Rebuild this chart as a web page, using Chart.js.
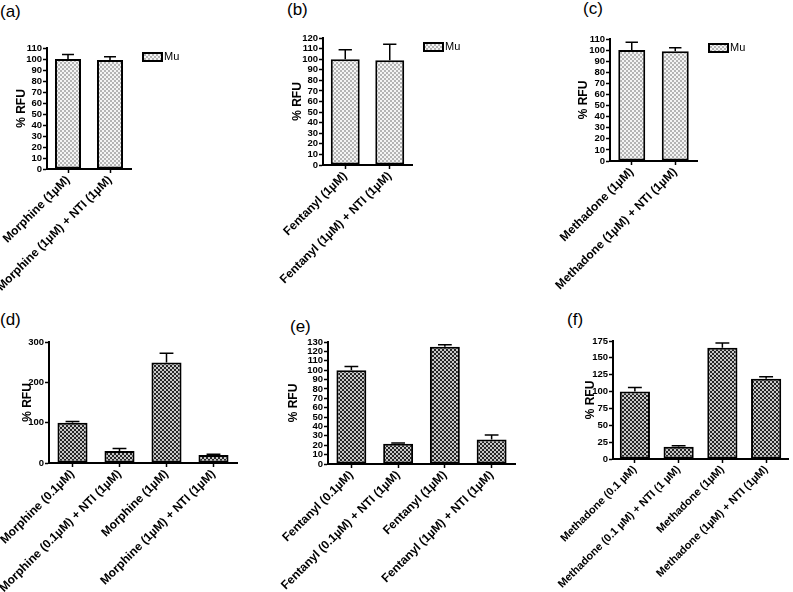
<!DOCTYPE html>
<html>
<head>
<meta charset="utf-8">
<script src="https://cdn.jsdelivr.net/npm/chart.js@4.4.0/dist/chart.umd.min.js"></script>
<style>
body{margin:0;background:#fff;width:793px;height:592px;position:relative;overflow:hidden;font-family:"Liberation Sans",Arial,sans-serif;}
canvas{position:absolute;}
.tag{position:absolute;font-size:17px;line-height:1;color:#000;}
</style>
</head>
<body>
<div class="tag" style="left:0px;top:3px">(a)</div>
<div class="tag" style="left:287px;top:1px">(b)</div>
<div class="tag" style="left:583px;top:0px">(c)</div>
<div class="tag" style="left:0px;top:311px">(d)</div>
<div class="tag" style="left:290px;top:318px">(e)</div>
<div class="tag" style="left:567px;top:311px">(f)</div>

<canvas id="pa" width="260" height="295" style="left:0;top:0"></canvas>
<canvas id="pb" width="270" height="295" style="left:260px;top:0"></canvas>
<canvas id="pc" width="263" height="295" style="left:530px;top:0"></canvas>
<canvas id="pd" width="260" height="297" style="left:0;top:295px"></canvas>
<canvas id="pe" width="270" height="297" style="left:260px;top:295px"></canvas>
<canvas id="pf" width="263" height="297" style="left:530px;top:295px"></canvas>

<script>
// 데이터
const labelsA = ['Morphine (1µM)', 'Morphine (1µM) + NTI (1µM)'];
const valuesA = [100, 99];
const errorsA = [4, 3];

const labelsB = ['Fentanyl (1µM)', 'Fentanyl (1µM) + NTI (1µM)'];
const valuesB = [100, 99];
const errorsB = [9, 15];

const labelsC = ['Methadone (1µM)', 'Methadone (1µM) + NTI (1µM)'];
const valuesC = [100, 99];
const errorsC = [7, 3];

const labelsD = ['Morphine (0.1µM)', 'Morphine (0.1µM) + NTI (1µM)', 'Morphine (1µM)', 'Morphine (1µM) + NTI (1µM)'];
const valuesD = [100, 30, 249, 20];
const errorsD = [3, 6, 23, 2];

const labelsE = ['Fentanyl (0.1µM)', 'Fentanyl (0.1µM) + NTI (1µM)', 'Fentanyl (1µM)', 'Fentanyl (1µM) + NTI (1µM)'];
const valuesE = [100, 21.5, 125, 26];
const errorsE = [4, 1, 2, 5];

const labelsF = ['Methadone (0.1 µM)', 'Methadone (0.1 µM) + NTI (1 µM)', 'Methadone (1µM)', 'Methadone (1µM) + NTI (1µM)'];
const valuesF = [100, 18, 165, 119];
const errorsF = [6, 1.5, 7, 3];

// y축 눈금 (최대값, 간격)
const yMaxTop = [110, 120, 110];
const yStepTop = [10, 10, 10];
const yMaxBottom = [300, 130, 175];
const yStepBottom = [100, 10, 25];

const seriesName = 'Mu';
const FONT = '"Liberation Sans", Arial, sans-serif';

// 무늬 채우기 (2px 체크)
function makePattern(c1, c2){
	const p = document.createElement('canvas');
	p.width = 4; p.height = 4;
	const g = p.getContext('2d');
	g.fillStyle = c1; g.fillRect(0,0,4,4);
	g.fillStyle = c2; g.fillRect(2,0,2,2); g.fillRect(0,2,2,2);
	return g.createPattern(p, 'repeat');
}
const lightFill = makePattern('#f4f4f4', '#b4b4b4');
const darkFill = makePattern('#262626', '#c8c8c8');

// 에러바 (위쪽만)
const errorBars = {
	id: 'errorBars',
	afterDatasetsDraw(chart){
		const ctx = chart.ctx;
		const y = chart.scales.y;
		const ds = chart.data.datasets[0];
		chart.getDatasetMeta(0).data.forEach((bar, i)=>{
			const top = y.getPixelForValue(ds.data[i] + ds.errors[i]);
			const half = bar.width * 0.23;
			ctx.save();
			ctx.strokeStyle = '#000';
			ctx.lineWidth = 1.5;
			ctx.beginPath();
			ctx.moveTo(bar.x, bar.y);
			ctx.lineTo(bar.x, top);
			ctx.moveTo(bar.x - half, top);
			ctx.lineTo(bar.x + half, top);
			ctx.stroke();
			ctx.restore();
		});
	}
};

// 범례 (오른쪽 위)
const sideLegend = {
	id: 'sideLegend',
	afterDraw(chart, args, opts){
		if(!opts.show) return;
		const ctx = chart.ctx;
		const a = chart.chartArea;
		const ds = chart.data.datasets[0];
		const bx = a.right + 12, by = a.top + 5;
		ctx.save();
		ctx.fillStyle = ds.backgroundColor;
		ctx.fillRect(bx, by, 19, 8);
		ctx.strokeStyle = '#000';
		ctx.lineWidth = 2;
		ctx.strokeRect(bx, by, 19, 8);
		ctx.fillStyle = '#000';
		ctx.font = '11px ' + FONT;
		ctx.textBaseline = 'middle';
		ctx.fillText(ds.label, bx + 21, by + 4);
		ctx.restore();
	}
};

function makePanel(id, p){
	new Chart(document.getElementById(id), {
		type: 'bar',
		data: {
			labels: p.labels,
			datasets: [{
				label: seriesName,
				data: p.values,
				errors: p.errors,
				backgroundColor: p.fill,
				borderColor: '#000',
				borderWidth: 2,
				borderSkipped: false,
				categoryPercentage: 1,
				barPercentage: p.barPct
			}]
		},
		options: {
			responsive: false,
			animation: false,
			devicePixelRatio: 1,
			layout: { padding: { left: 0, right: p.padRight, top: p.padTop, bottom: 0 } },
			plugins: {
				legend: { display: false },
				tooltip: { enabled: false },
				sideLegend: { show: p.legend }
			},
			scales: {
				x: {
					offset: true,
					grid: { display: true, drawOnChartArea: false, offset: false, tickLength: 4, tickWidth: 1.5, tickColor: '#000' },
					border: { color: '#000', width: 2 },
					ticks: {
						color: '#000', autoSkip: false, minRotation: 45, maxRotation: 45, padding: 0,
						font: { family: FONT, size: p.xFont || 12, weight: 'bold' }
					},
					afterFit(s){ s.height = p.xHeight; s.paddingLeft = 0; s.paddingRight = 0; }
				},
				y: {
					min: 0, max: p.yMax,
					grid: { display: true, drawOnChartArea: false, tickLength: 4, tickWidth: 1.5, tickColor: '#000' },
					border: { color: '#000', width: 2 },
					ticks: {
						stepSize: p.yStep, color: '#000', padding: 1, autoSkip: false,
						font: { family: FONT, size: 9.5, weight: 'bold' }
					},
					title: {
						display: true, text: '% RFU', color: '#000',
						padding: { top: p.titlePad, bottom: 0 },
						font: { family: FONT, size: 12, weight: 'bold' }
					},
					afterFit(s){ s.width = p.yWidth; s.paddingTop = 0; s.paddingBottom = 0; }
				}
			}
		},
		plugins: [errorBars, sideLegend]
	});
}

makePanel('pa', { labels: labelsA, values: valuesA, errors: errorsA, fill: lightFill, barPct: 0.62, legend: true,
	yMax: yMaxTop[0], yStep: yStepTop[0], yWidth: 47, xHeight: 126, padRight: 129, padTop: 48, titlePad: 14 });
makePanel('pb', { labels: labelsB, values: valuesB, errors: errorsB, fill: lightFill, barPct: 0.65, legend: true,
	yMax: yMaxTop[1], yStep: yStepTop[1], yWidth: 63, xHeight: 130, padRight: 118, padTop: 38, titlePad: 30 });
makePanel('pc', { labels: labelsC, values: valuesC, errors: errorsC, fill: lightFill, barPct: 0.62, legend: true,
	yMax: yMaxTop[2], yStep: yStepTop[2], yWidth: 80, xHeight: 134, padRight: 96, padTop: 39, titlePad: 46 });
makePanel('pd', { labels: labelsD, values: valuesD, errors: errorsD, fill: darkFill, barPct: 0.64, legend: false,
	yMax: yMaxBottom[0], yStep: yStepBottom[0], yWidth: 49, xHeight: 129, padRight: 23, padTop: 47, titlePad: 20 });
makePanel('pe', { labels: labelsE, values: valuesE, errors: errorsE, fill: darkFill, barPct: 0.64, legend: false,
	yMax: yMaxBottom[1], yStep: yStepBottom[1], yWidth: 68, xHeight: 128, padRight: 15, padTop: 47, titlePad: 26 });
makePanel('pf', { labels: labelsF, values: valuesF, errors: errorsF, fill: darkFill, barPct: 0.69, legend: false, xFont: 11,
	yMax: yMaxBottom[2], yStep: yStepBottom[2], yWidth: 83, xHeight: 133, padRight: 5, padTop: 46, titlePad: 53 });
</script>
</body>
</html>
